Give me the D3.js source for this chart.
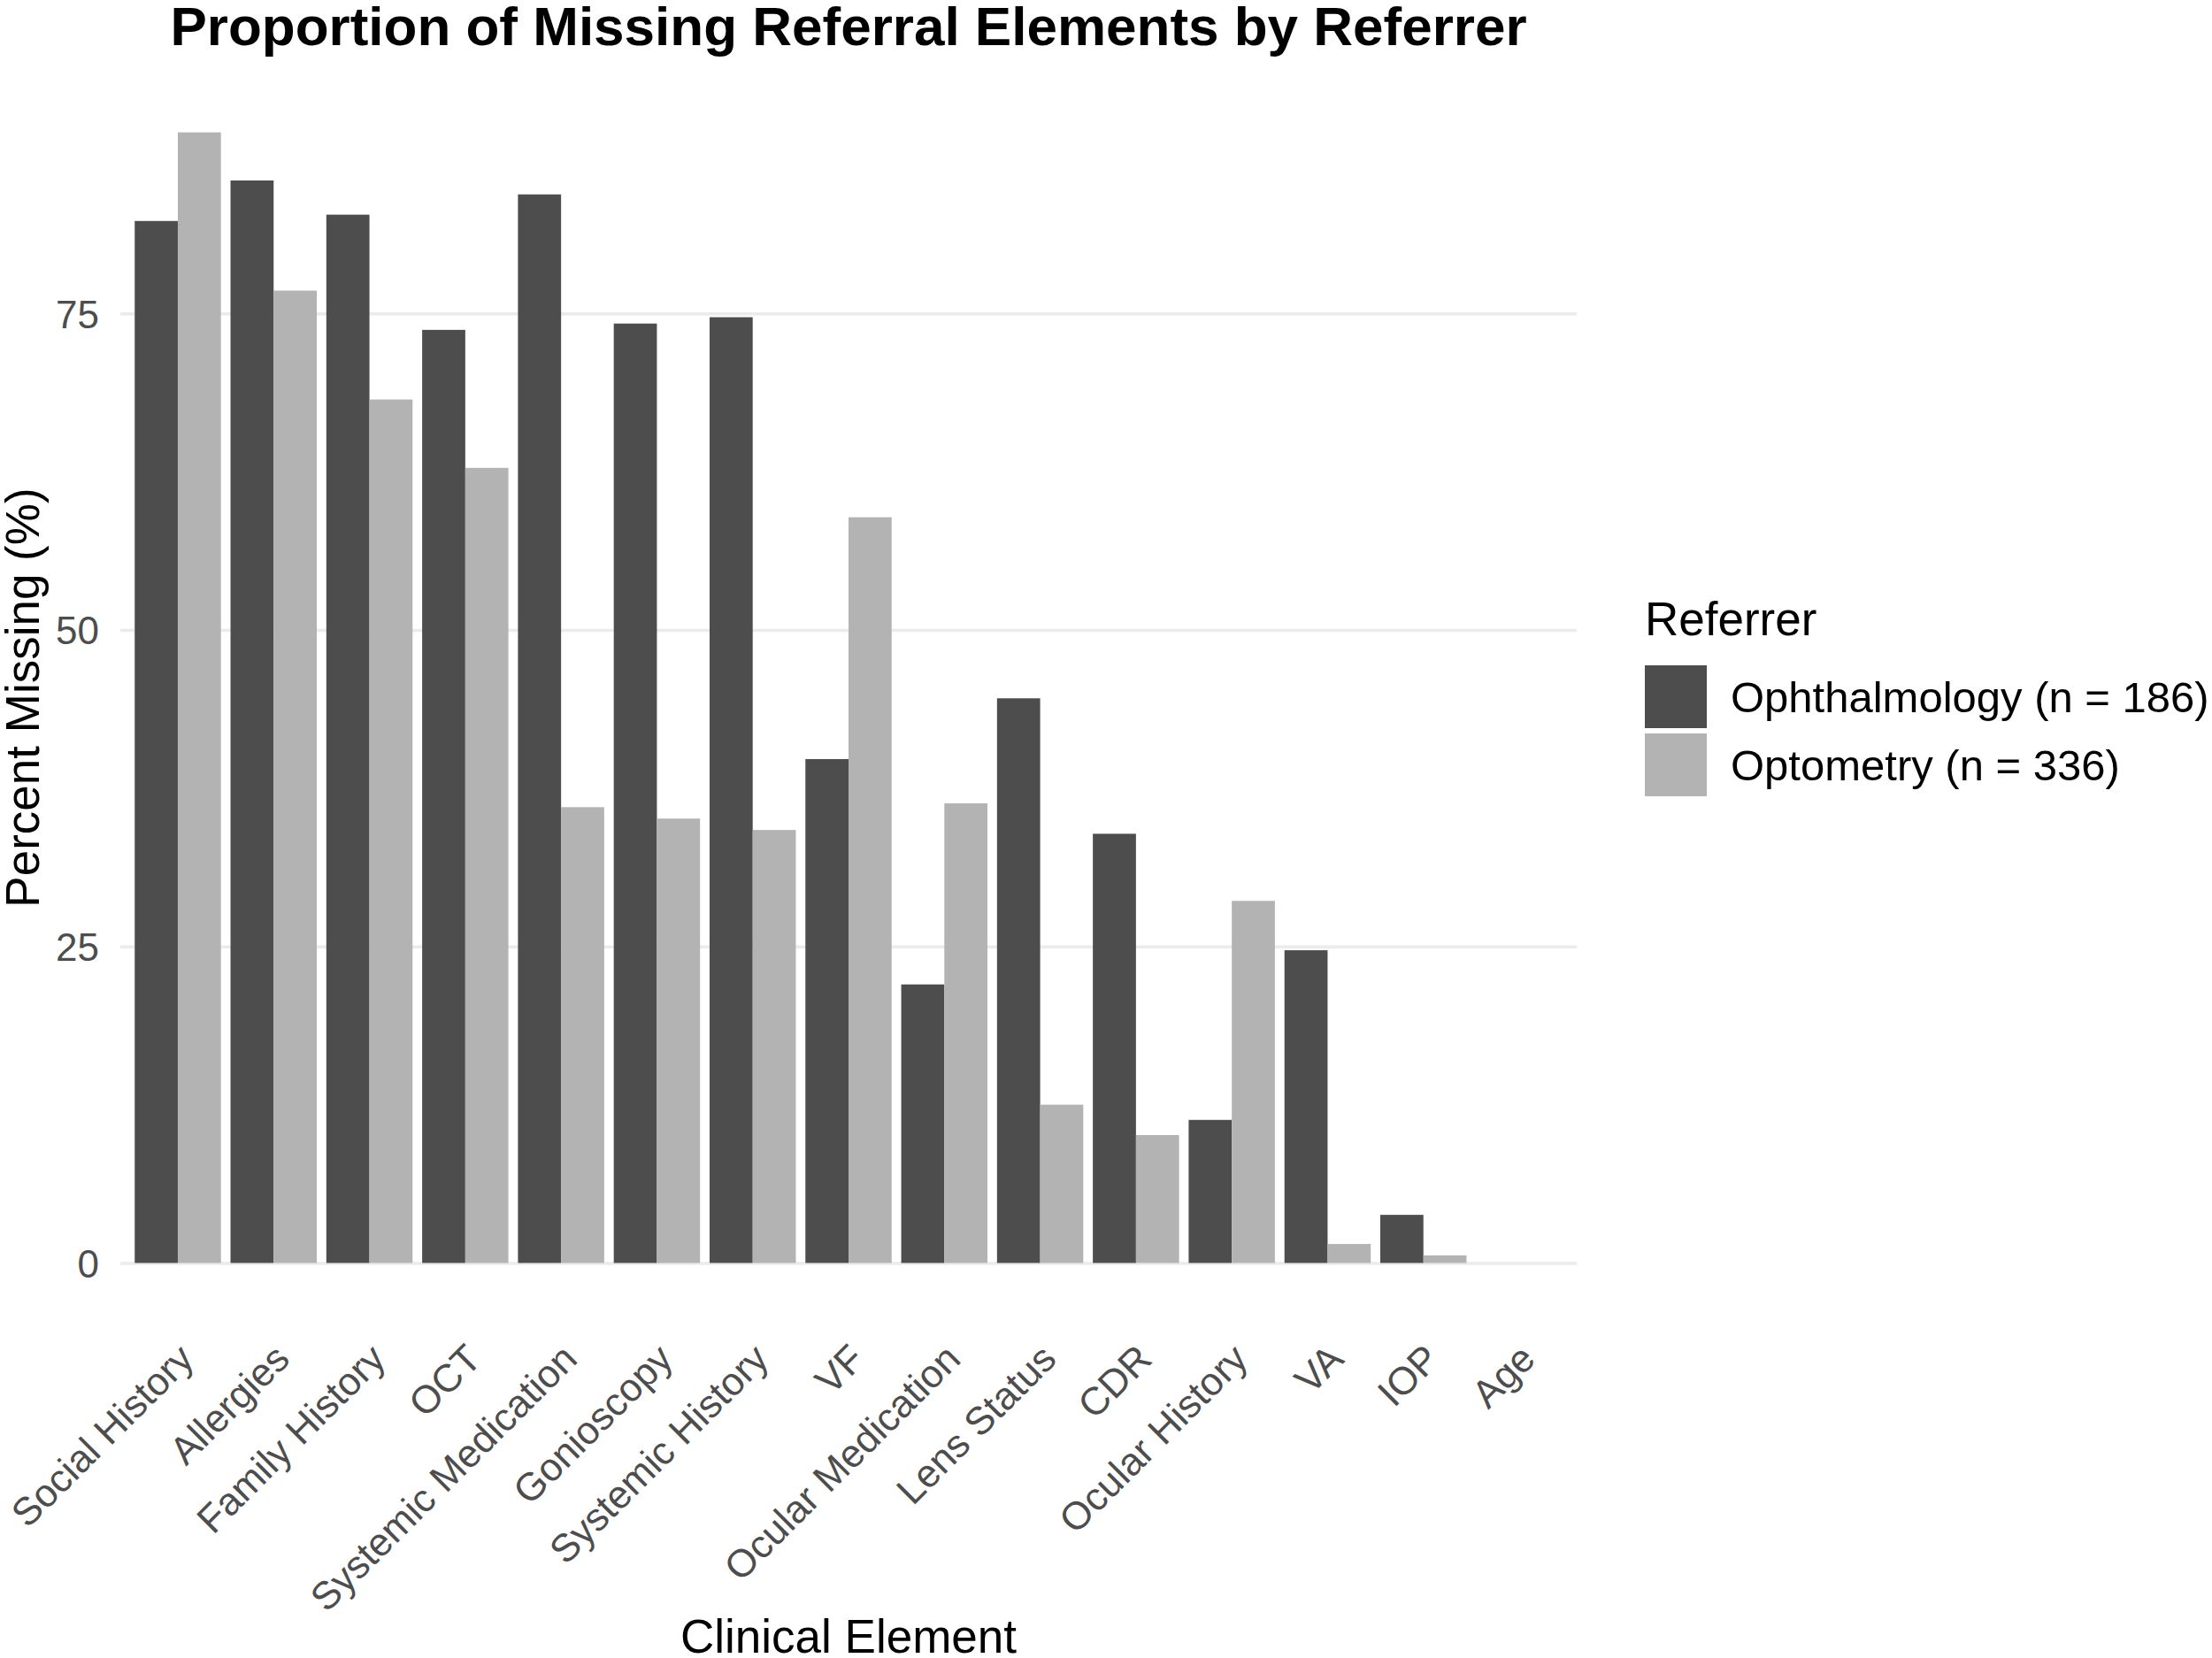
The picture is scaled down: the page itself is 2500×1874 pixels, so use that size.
<!DOCTYPE html>
<html>
<head>
<meta charset="utf-8">
<script src="https://cdn.jsdelivr.net/npm/d3@7"></script>
<style>
  body { margin: 0; background: #fff; }
  svg { display: block; font-family: "Liberation Sans", Arial, Helvetica, sans-serif; }
  .grid line { stroke: #ebebeb; stroke-width: 3.5; }
  .tick text { fill: #4d4d4d; }
</style>
</head>
<body>
<svg id="chart"></svg>
<script>
// Clinical elements, in plotted order
const elements = [
  'Social History', 'Allergies', 'Family History', 'OCT', 'Systemic Medication',
  'Gonioscopy', 'Systemic History', 'VF', 'Ocular Medication', 'Lens Status',
  'CDR', 'Ocular History', 'VA', 'IOP', 'Age'
];

const referrers = ['Ophthalmology (n = 186)', 'Optometry (n = 336)'];

// Percent missing
const ophthalmology = [82.3, 85.5, 82.8, 73.7, 84.4, 74.2, 74.7, 39.8, 22.0, 44.6, 33.9, 11.3, 24.7, 3.8, 0];
const optometry     = [89.3, 76.8, 68.2, 62.8, 36.0, 35.1, 34.2, 58.9, 36.3, 12.5, 10.1, 28.6, 1.5, 0.6, 0];

const yTicks = [0, 25, 50, 75];

const fills = ['#4d4d4d', '#b3b3b3'];

// long format rows for the dodge
const rows = [];
elements.forEach((el, i) => {
  rows.push({ element: el, referrer: referrers[0], value: ophthalmology[i] });
  rows.push({ element: el, referrer: referrers[1], value: optometry[i] });
});

const width = 2500, height = 1874;
const panel = { left: 136, right: 1782 };

const svg = d3.select('#chart')
  .attr('width', width)
  .attr('height', height);

// Scales (ggplot style expansion: 0.6 units on x, 5% on y)
const x = d3.scaleBand()
  .domain(elements)
  .range([panel.left, panel.right])
  .paddingInner(0.1)
  .paddingOuter(0.15);

const xSub = d3.scaleBand()
  .domain(referrers)
  .range([0, x.bandwidth()]);

const yMax = d3.max(rows, d => d.value);
const pad = yMax * 0.05;
const y0px = 1427.5, pxPerUnit = 14.31;
const y = d3.scaleLinear()
  .domain([-pad, yMax + pad])
  .range([y0px + pad * pxPerUnit, y0px - (yMax + pad) * pxPerUnit]);

const color = d3.scaleOrdinal().domain(referrers).range(fills);

// Gridlines + y tick labels
const yAxisG = svg.append('g')
  .attr('class', 'grid')
  .attr('transform', `translate(${panel.left},0)`)
  .call(d3.axisLeft(y)
    .tickValues(yTicks)
    .tickSizeInner(-(panel.right - panel.left))
    .tickSizeOuter(0)
    .tickPadding(24));
yAxisG.select('.domain').remove();
yAxisG.selectAll('.tick text')
  .style('font-size', '44px')
  .attr('dy', '0.36em');

// Bars
svg.append('g')
  .selectAll('rect')
  .data(rows)
  .join('rect')
  .attr('x', d => x(d.element) + xSub(d.referrer))
  .attr('width', xSub.bandwidth())
  .attr('y', d => y(d.value))
  .attr('height', d => y(0) - y(d.value))
  .attr('fill', d => color(d.referrer));

// x tick labels, rotated 45 degrees
const xAxisG = svg.append('g')
  .attr('transform', `translate(0,${y0px})`)
  .call(d3.axisBottom(x).tickSize(0));
xAxisG.select('.domain').remove();
xAxisG.selectAll('.tick text')
  .style('font-size', '44px')
  .attr('text-anchor', 'end')
  .attr('x', 0)
  .attr('y', 0)
  .attr('dy', '0.72em')
  .attr('transform', `translate(-2,${1516 - y0px}) rotate(-45)`);

// Axis titles
svg.append('text')
  .attr('x', (panel.left + panel.right) / 2)
  .attr('y', 1868)
  .attr('text-anchor', 'middle')
  .style('font-size', '53px')
  .text('Clinical Element');

svg.append('text')
  .attr('transform', `translate(44,${(y.range()[0] + y.range()[1]) / 2}) rotate(-90)`)
  .attr('text-anchor', 'middle')
  .style('font-size', '53px')
  .text('Percent Missing (%)');

// Plot title
svg.append('text')
  .attr('x', (panel.left + panel.right) / 2)
  .attr('y', 51)
  .attr('text-anchor', 'middle')
  .style('font-size', '62px')
  .style('font-weight', 'bold')
  .text('Proportion of Missing Referral Elements by Referrer');

// Legend
const legend = svg.append('g')
  .attr('transform', 'translate(1859,0)');

legend.append('text')
  .attr('x', 0)
  .attr('y', 718)
  .style('font-size', '53px')
  .text('Referrer');

const keys = legend.selectAll('.key')
  .data(referrers)
  .join('g')
  .attr('class', 'key')
  .attr('transform', (d, i) => `translate(0,${752 + i * 77})`);

keys.append('rect')
  .attr('width', 70)
  .attr('height', 71)
  .attr('fill', d => color(d));

keys.append('text')
  .attr('x', 97)
  .attr('y', 53)
  .style('font-size', '49px')
  .text(d => d);
</script>
</body>
</html>
